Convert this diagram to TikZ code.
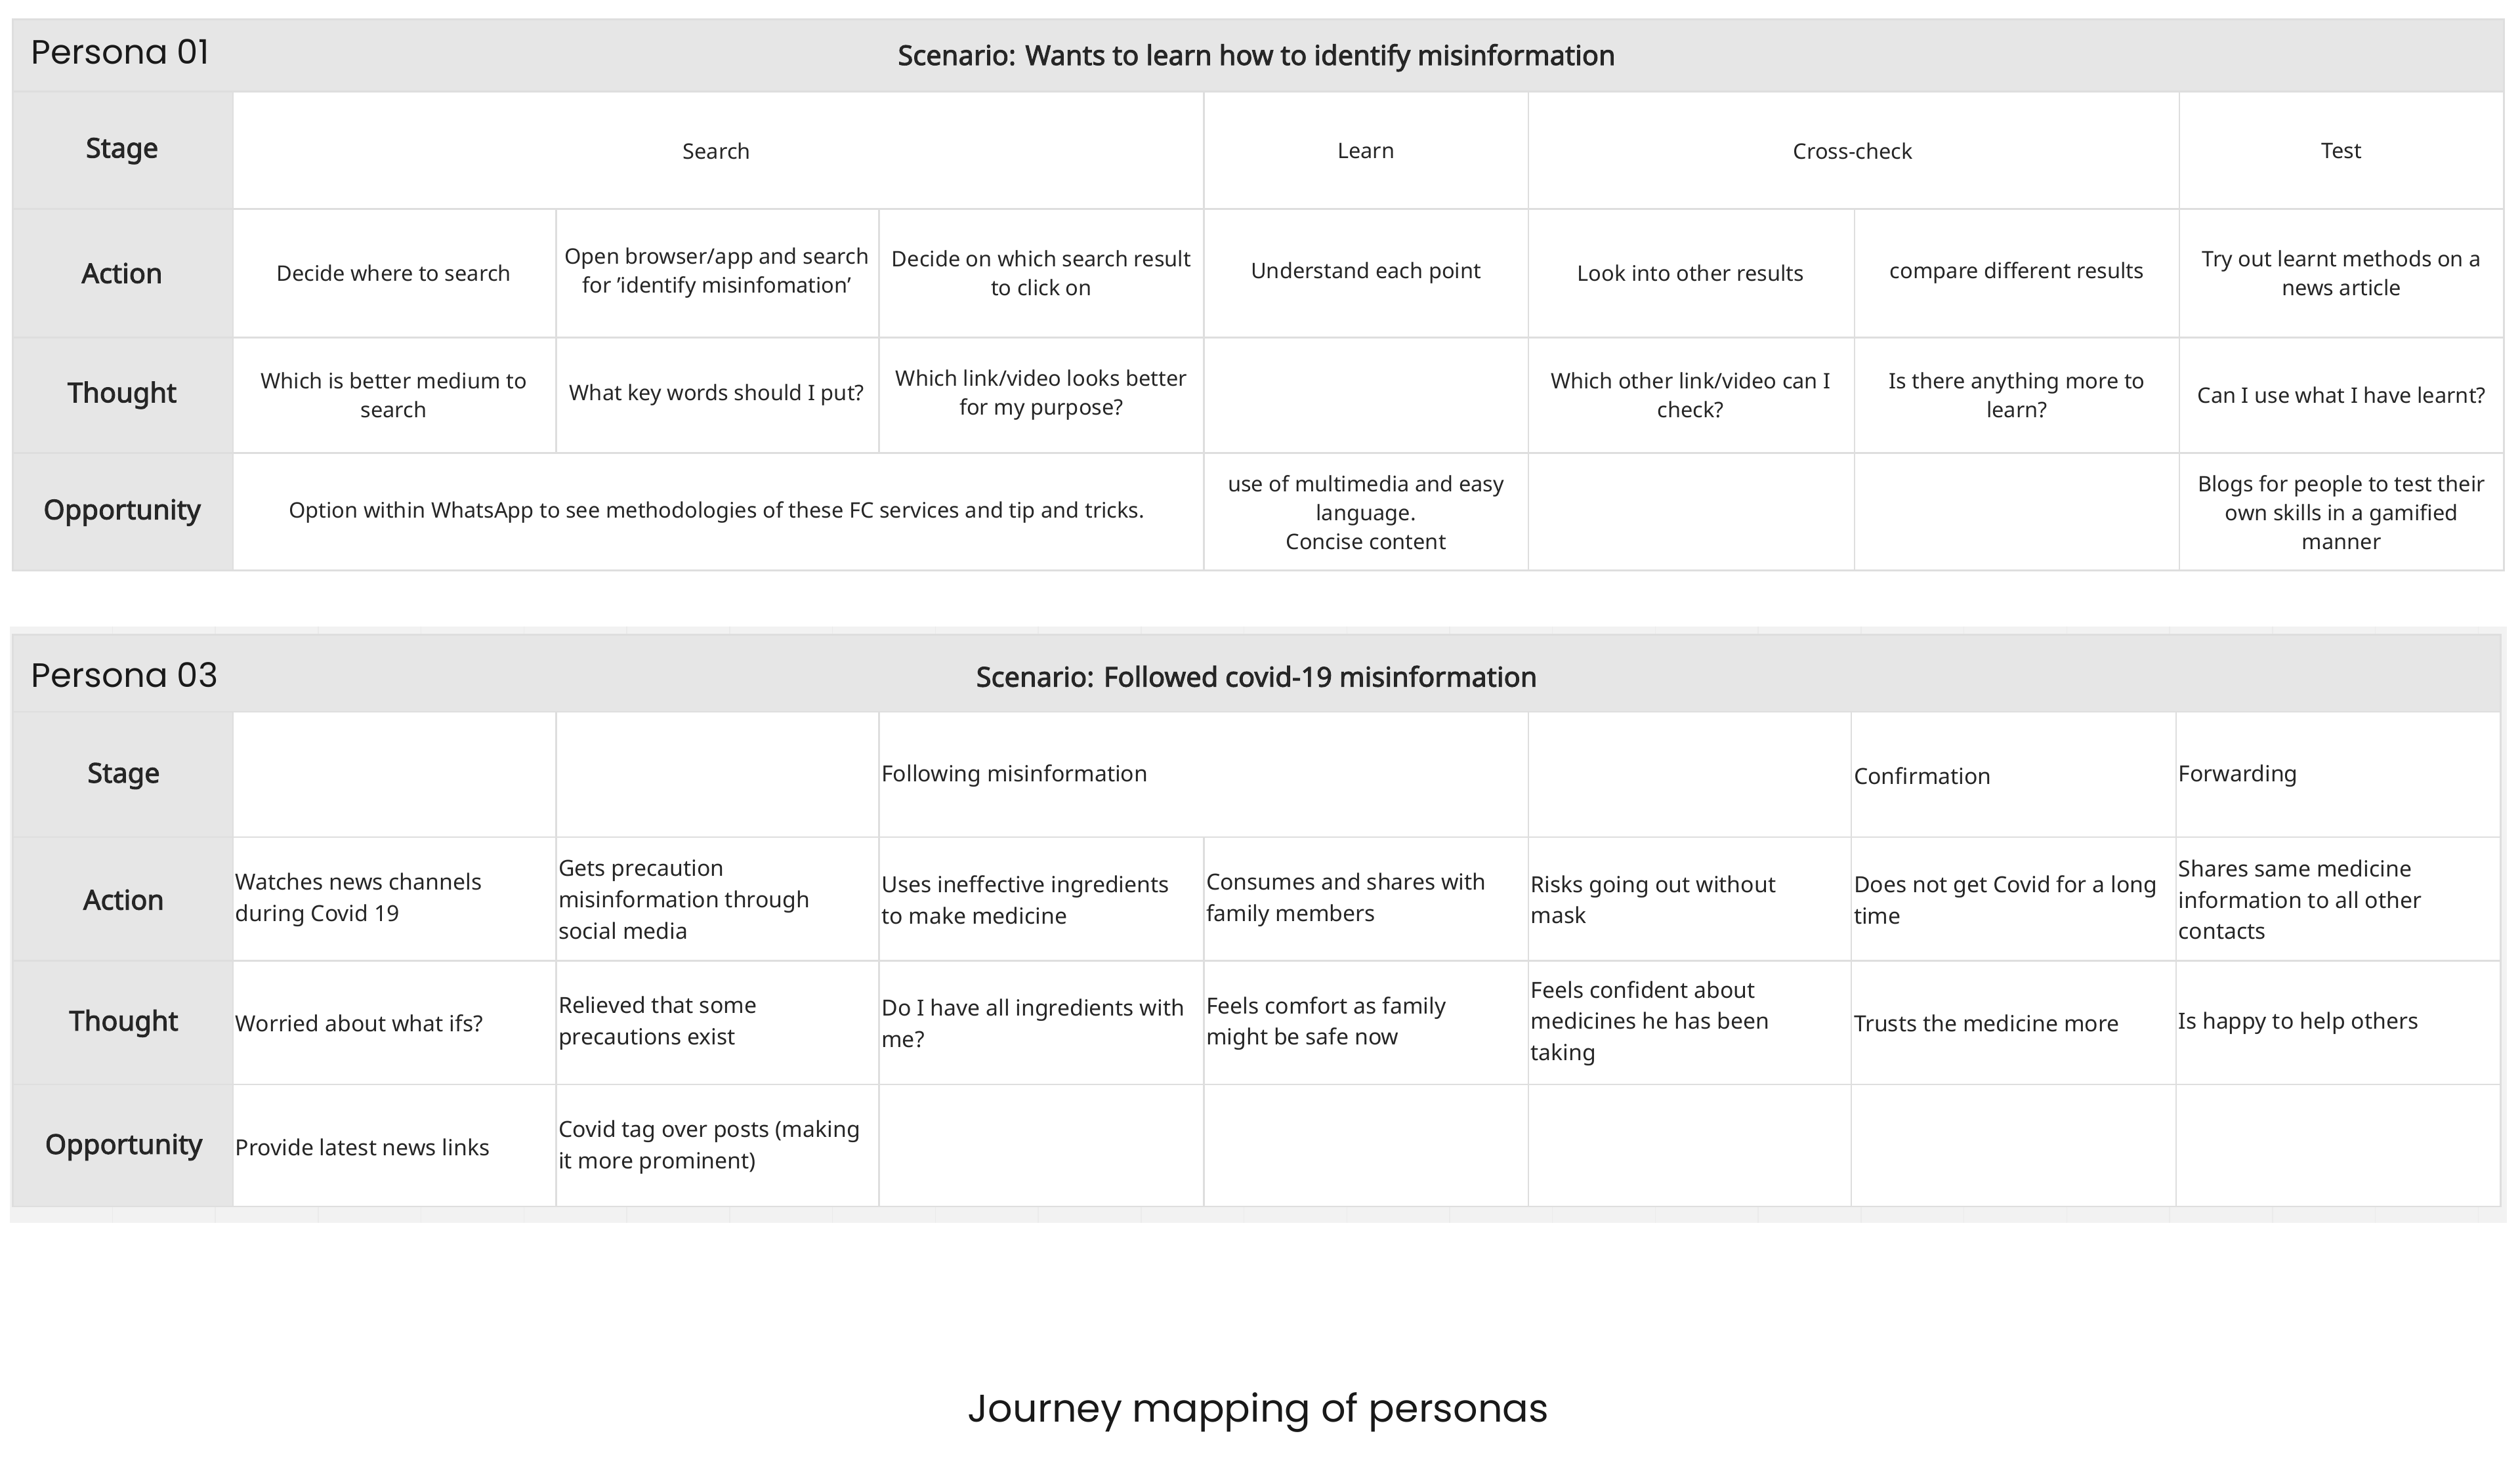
\documentclass[tikz,border=0pt]{standalone}
\usepackage{fontspec}
\setmainfont{Noto Sans}
\newfontfamily\bff{Noto Sans}[FakeBold=2.5]
\newfontfamily\popp{Poppins}
\definecolor{hdr}{HTML}{E6E6E6}
\definecolor{gl}{HTML}{DEDEDE}
\definecolor{bg}{HTML}{F2F2F2}
\begin{document}
\begin{tikzpicture}[x=1pt,y=-1pt,
 cellc/.style={font=\fontsize{13.3}{18}\selectfont,align=center,text=black!85},
 celll/.style={font=\fontsize{13.8}{19.5}\selectfont,align=left,anchor=west,text=black!85},
 rowh/.style={font=\fontsize{17}{20}\selectfont\bff,text=black!85},
 scen/.style={font=\fontsize{17}{20}\selectfont\bff,text=black!85},
 pers/.style={font=\fontsize{21}{24}\selectfont\popp,anchor=west,text=black!90},
 grid/.style={draw=gl,line width=1pt}]
\useasboundingbox (0,0) rectangle (1568,909);
\fill[white] (0,0) rectangle (1568,909);
% ---------- Table 1
\fill[hdr] (8,12) rectangle (1558,57);
\fill[hdr] (8,57) rectangle (145,355);
\draw[grid] (8,12) rectangle (1558,355);
\foreach \y in {57,130,210,282} \draw[grid] (8,\y) -- (1558,\y);
\foreach \x in {346,547} \draw[grid] (\x,130) -- (\x,282);
\foreach \x in {145,749,951,1356} \draw[grid] (\x,57) -- (\x,355);
\foreach \x in {1154} \draw[grid] (\x,130) -- (\x,355);
\node[pers] (p1) at (16,32) {Persona 01};
\node[scen] (s1) at (782,36) {Scenario: Wants to learn how to identify misinformation};
\node[rowh] (a1) at (76,94) {Stage};
\node[rowh] (a2) at (76,170) {Action};
\node[rowh] (a3) at (76,246) {Thought};
\node[rowh] (a4) at (76,319) {Opportunity};
\node[cellc] (t1) at (446,94) {Search};
\node[cellc] (t2) at (850,94) {Learn};
\node[cellc] (t3) at (1153,94) {Cross-check};
\node[cellc] (t4) at (1457,94) {Test};
\node[cellc] (b1) at (245,170) {Decide where to search};
\node[cellc] (b2) at (446,170) {Open browser/app and search\\for {\char39}identify misinfomation{\char39}};
\node[cellc] (b3) at (648,170) {Decide on which search result\\to click on};
\node[cellc] (b4) at (850,170) {Understand each point};
\node[cellc] (b5) at (1052,170) {Look into other results};
\node[cellc] (b6) at (1255,170) {compare different results};
\node[cellc] (b7) at (1457,170) {Try out learnt methods on a\\news article};
\node[cellc] (c1) at (245,246) {Which is better medium to\\search};
\node[cellc] (c2) at (446,246) {What key words should I put?};
\node[cellc] (c3) at (648,246) {Which link/video looks better\\for my purpose?};
\node[cellc] (c5) at (1052,246) {Which other link/video can I\\check?};
\node[cellc] (c6) at (1255,246) {Is there anything more to\\learn?};
\node[cellc] (c7) at (1457,246) {Can I use what I have learnt?};
\node[cellc] (d1) at (446,319) {Option within WhatsApp to see methodologies of these FC services and tip and tricks.};
\node[cellc] (d2) at (850,319) {use of multimedia and easy\\language.\\Concise content};
\node[cellc] (d3) at (1457,319) {Blogs for people to test their\\own skills in a gamified\\manner};
% ---------- Table 2
\fill[bg] (6,390) rectangle (1560,761);
\foreach \x in {70,134,198,262,326,390,454,518,582,646,710,774,838,902,966,1030,1094,1158,1222,1286,1350,1414,1478,1542}
 {\draw[gl!60,line width=0.6pt] (\x,390) -- (\x,398); \draw[gl!60,line width=0.6pt] (\x,751) -- (\x,761);}
\fill[hdr] (8,395) rectangle (1556,443);
\fill[hdr] (8,443) rectangle (145,751);
\fill[white] (145,443) rectangle (1556,751);
\draw[grid] (8,395) rectangle (1556,751);
\foreach \y in {443,521,598,675} \draw[grid] (8,\y) -- (1556,\y);
\foreach \x in {145,346,547,951,1152,1354} \draw[grid] (\x,443) -- (\x,751);
\draw[grid] (749,521) -- (749,751);
\node[pers] (p3) at (16,420) {Persona 03};
\node[scen] (s3) at (782,421) {Scenario: Followed covid-19 misinformation};
\node[rowh] (e1) at (77,483) {Stage};
\node[rowh] (e2) at (77,560) {Action};
\node[rowh] (e3) at (77,637) {Thought};
\node[rowh] (e4) at (77,714) {Opportunity};
\node[celll] (f1) at (545,483) {Following misinformation};
\node[celll] (f2) at (1150,483) {Confirmation};
\node[celll] (f3) at (1352,483) {Forwarding};
\node[celll] (g1) at (143,560) {Watches news channels\\during Covid 19};
\node[celll] (g2) at (344,560) {Gets precaution\\misinformation through\\social media};
\node[celll] (g3) at (545,560) {Uses ineffective ingredients\\to make medicine};
\node[celll] (g4) at (747,560) {Consumes and shares with\\family members};
\node[celll] (g5) at (949,560) {Risks going out without\\mask};
\node[celll] (g6) at (1150,560) {Does not get Covid for a long\\time};
\node[celll] (g7) at (1352,560) {Shares same medicine\\information to all other\\contacts};
\node[celll] (h1) at (143,637) {Worried about what ifs?};
\node[celll] (h2) at (344,637) {Relieved that some\\precautions exist};
\node[celll] (h3) at (545,637) {Do I have all ingredients with\\me?};
\node[celll] (h4) at (747,637) {Feels comfort as family\\might be safe now};
\node[celll] (h5) at (949,637) {Feels confident about\\medicines he has been\\taking};
\node[celll] (h6) at (1150,637) {Trusts the medicine more};
\node[celll] (h7) at (1352,637) {Is happy to help others};
\node[celll] (i1) at (143,714) {Provide latest news links};
\node[celll] (i2) at (344,714) {Covid tag over posts (making\\it more prominent)};
% caption
\node[font=\fontsize{24}{28}\selectfont\popp,text=black!90] (cap) at (783,879) {Journey mapping of personas};
\end{tikzpicture}
\end{document}
